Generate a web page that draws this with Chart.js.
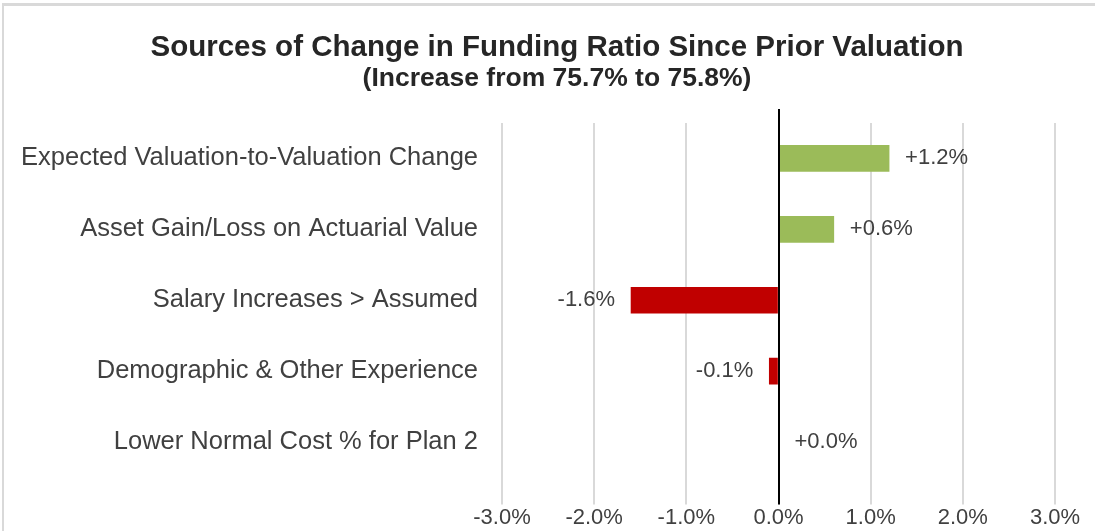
<!DOCTYPE html>
<html lang="en">

<head>
    <meta charset="UTF-8">
    <title>Sources of Change in Funding Ratio</title>
    <script src="https://cdn.jsdelivr.net/npm/chart.js"></script>
    <style>
        html, body { margin: 0; padding: 0; background: #fff; overflow: hidden; }
        #frame { position: absolute; left: 2px; top: 3px; width: 1200px; height: 600px;
                 border-top: 3px solid #d9d9d9; border-left: 2px solid #d9d9d9; }
        #wrap { position: absolute; left: 0; top: 0; width: 1114px; height: 531px; }
    </style>
</head>

<body>
    <div id="frame"></div>
    <div id="wrap"><canvas id="fundingChart"></canvas></div>

    <script>
        const categories = [
            'Expected Valuation-to-Valuation Change',
            'Asset Gain/Loss on Actuarial Value',
            'Salary Increases > Assumed',
            'Demographic & Other Experience',
            'Lower Normal Cost % for Plan 2'
        ];
        const changes = [1.2, 0.6, -1.6, -0.1, 0.0];
        const xTicks = [-3, -2, -1, 0, 1, 2, 3];

        const FONT = "'Liberation Sans', Arial, sans-serif";

        const fmtSigned = v => (v >= 0 ? '+' : '') + v.toFixed(1) + '%';

        // black zero line, runs a bit above the plot like in Excel
        const zeroLine = {
            id: 'zeroLine',
            afterDatasetsDraw(chart) {
                const { ctx, chartArea, scales } = chart;
                const x = Math.round(scales.x.getPixelForValue(0));
                ctx.save();
                ctx.strokeStyle = '#000';
                ctx.lineWidth = 2;
                ctx.beginPath();
                ctx.moveTo(x, chartArea.top - 14);
                ctx.lineTo(x, chartArea.bottom + 27);
                ctx.stroke();
                ctx.restore();
            }
        };

        const barLabels = {
            id: 'barLabels',
            afterDatasetsDraw(chart) {
                const { ctx } = chart;
                const meta = chart.getDatasetMeta(0);
                ctx.save();
                ctx.font = '22px ' + FONT;
                ctx.fillStyle = '#404040';
                ctx.textBaseline = 'middle';
                meta.data.forEach((bar, i) => {
                    const v = changes[i];
                    if (v < 0) {
                        ctx.textAlign = 'right';
                        ctx.fillText(fmtSigned(v), bar.x - 16, bar.y);
                    } else {
                        ctx.textAlign = 'left';
                        ctx.fillText(fmtSigned(v), bar.x + 16, bar.y);
                    }
                });
                ctx.restore();
            }
        };

        new Chart(document.getElementById('fundingChart'), {
            type: 'bar',
            data: {
                labels: categories,
                datasets: [{
                    data: changes,
                    backgroundColor: changes.map(v => v < 0 ? '#c00000' : '#9bbb59'),
                    borderWidth: 0,
                    barThickness: 26
                }]
            },
            options: {
                indexAxis: 'y',
                responsive: true,
                maintainAspectRatio: false,
                animation: false,
                layout: { padding: 0 },
                plugins: {
                    legend: { display: false },
                    tooltip: { enabled: false },
                    title: {
                        display: true,
                        text: 'Sources of Change in Funding Ratio Since Prior Valuation',
                        color: '#262626',
                        font: { family: FONT, size: 29.5, weight: 'bold', lineHeight: 1.2 },
                        padding: { top: 30, bottom: 0 }
                    },
                    subtitle: {
                        display: true,
                        text: '(Increase from 75.7% to 75.8%)',
                        color: '#262626',
                        font: { family: FONT, size: 26.5, weight: 'bold', lineHeight: 1.0 },
                        padding: { top: 0, bottom: 31 }
                    }
                },
                scales: {
                    x: {
                        min: -3,
                        max: 3,
                        afterBuildTicks: scale => {
                            scale.ticks = xTicks.map(v => ({ value: v }));
                        },
                        ticks: {
                            color: '#404040',
                            font: { family: FONT, size: 22 },
                            padding: 0,
                            callback: v => Number(v).toFixed(1) + '%'
                        },
                        grid: {
                            color: '#d9d9d9',
                            lineWidth: 2,
                            tickLength: 27
                        },
                        border: { display: false }
                    },
                    y: {
                        afterFit: scale => { scale.width = 502; },
                        ticks: {
                            color: '#404040',
                            font: { family: FONT, size: 25.5 },
                            padding: 24
                        },
                        grid: { display: false, drawTicks: false },
                        border: { display: false }
                    },
                    // empty right axis: keeps room on the right without shifting the title
                    yRight: {
                        type: 'category',
                        position: 'right',
                        afterFit: scale => { scale.width = 59; },
                        ticks: { display: false },
                        grid: { display: false, drawTicks: false },
                        border: { display: false }
                    }
                }
            },
            plugins: [zeroLine, barLabels]
        });
    </script>
</body>

</html>
